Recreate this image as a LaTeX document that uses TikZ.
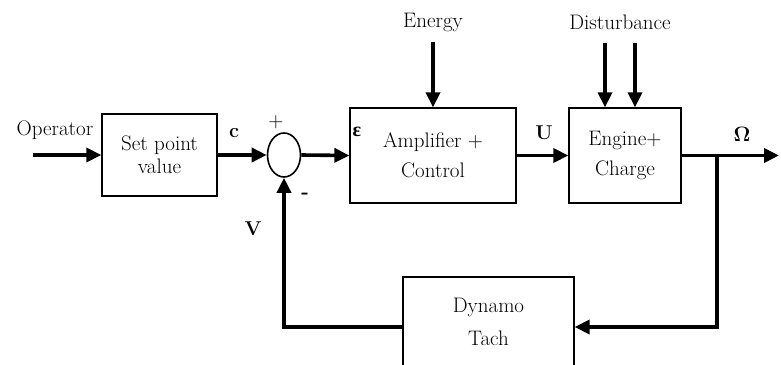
\documentclass[tikz,border=0pt]{standalone}
\usepackage{bm}
\usepackage[no-math]{fontspec}
\newfontfamily\gkfont{Liberation Serif}
\usetikzlibrary{arrows.meta,shapes.geometric}
\begin{document}
\begin{tikzpicture}[x=1pt,y=-1pt,
  blk/.style={draw,line width=1.3pt,align=center,inner sep=0pt,font=\fontsize{21}{24}\selectfont},
  txt/.style={inner sep=0pt,font=\fontsize{21}{24}\selectfont},
  lbl/.style={inner sep=0pt,font=\fontsize{20}{24}\selectfont\bfseries},
  arr/.style={line width=3.6pt,-{Triangle[length=15pt,width=14pt]}},
  ln/.style={line width=3.6pt}]
\useasboundingbox (0,0) rectangle (781,364);
% blocks
\node[blk,minimum width=115pt,minimum height=82pt] (sp) at (159.5,155) {Set point\\[-1pt]value};
\node[draw,line width=1.6pt,ellipse,minimum width=33pt,minimum height=44pt,inner sep=0pt] (sum) at (284,155) {};
\node[blk,minimum width=166pt,minimum height=95pt] (amp) at (433,155.5) {Amplifier +\\[6pt]Control};
\node[blk,minimum width=112pt,minimum height=95pt] (eng) at (625,155.5) {Engine+\\[6pt]Charge};
\node[blk,minimum width=171pt,minimum height=89pt] (dyn) at (488.5,321.5) {Dynamo\\[9pt]Tach};
% texts
\node[txt] (op) at (55,130) {Operator};
\node[txt] (en) at (433,22) {Energy};
\node[txt] (di) at (620,22) {Disturbance};
% labels
\node[lbl] (lc) at (234,133) {c};
\node[lbl] (le) at (357,132) {\gkfont\bfseries ε};
\node[lbl] (lu) at (544,133) {U};
\node[lbl] (lo) at (742,134) {$\mathbf{\Omega}$};
\node[lbl] (lv) at (253,229) {V};
\node[lbl] (lm) at (305,196) {-};
\node[txt] (lp) at (276,122) {+};
% coordinates
\coordinate (opin) at (33,155);
\coordinate (eng0) at (433,42);
\coordinate (d1) at (605,43);
\coordinate (d2) at (635,43);
\coordinate (out) at (779,155.5);
\coordinate (br) at (717,155.5);
\coordinate (dynin) at (574.65,327);
\coordinate (dynout) at (403,327);
% connectors
\draw[arr] (opin) -- (sp.west);
\draw[arr] (sp.east) -- (sum.west);
\draw[arr] (sum.east) -- (amp.west);
\draw[arr] (amp.east) -- (eng.west);
\draw[arr] (eng.east) -- (out);
\draw[arr] (eng0) -- (amp.north);
\draw[arr] (d1) -- (d1 |- eng.north);
\draw[arr] (d2) -- (d2 |- eng.north);
\draw[arr] (br) |- (dynin);
\draw[arr] (dynout) -| (sum.south);
\end{tikzpicture}
\end{document}
